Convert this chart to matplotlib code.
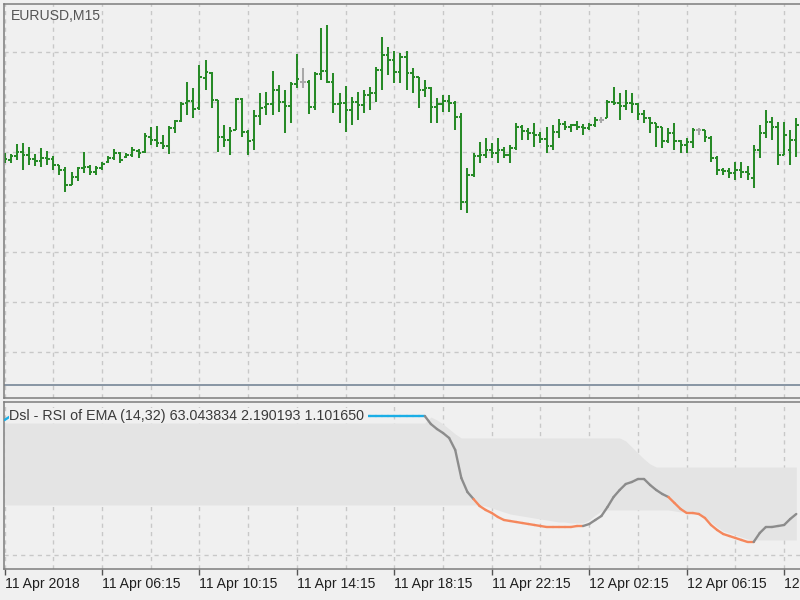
import matplotlib

matplotlib.use("Agg")
import matplotlib.pyplot as plt
import matplotlib.transforms as mtransforms
import numpy as np
from matplotlib.collections import LineCollection
from matplotlib.patches import Rectangle

# EURUSD M15 bars (first bar 11 Apr 2018 02:15)
highs = [
    1.23798, 1.23796, 1.23816, 1.23818, 1.23810, 1.23796, 1.23808, 1.23802, 1.23792, 1.23774,
    1.23770, 1.23760, 1.23770, 1.23800, 1.23774, 1.23772, 1.23780, 1.23792, 1.23806, 1.23800,
    1.23798, 1.23810, 1.23806, 1.23838, 1.23850, 1.23852, 1.23834, 1.23852, 1.23864, 1.23900,
    1.23940, 1.23928, 1.23974, 1.23984, 1.23960, 1.23904, 1.23854, 1.23850, 1.23908, 1.23908,
    1.23844, 1.23884, 1.23918, 1.23920, 1.23962, 1.23934, 1.23924, 1.23940, 1.23996, 1.23968,
    1.23944, 1.23960, 1.24048, 1.24054, 1.23958, 1.23918, 1.23932, 1.23910, 1.23920, 1.23924,
    1.23930, 1.23970, 1.24030, 1.24010, 1.24002, 1.23998, 1.24002, 1.23968, 1.23950, 1.23944,
    1.23930, 1.23908, 1.23914, 1.23914, 1.23902, 1.23878, 1.23768, 1.23798, 1.23820, 1.23828,
    1.23818, 1.23828, 1.23810, 1.23814, 1.23858, 1.23854, 1.23848, 1.23858, 1.23840, 1.23850,
    1.23854, 1.23866, 1.23862, 1.23856, 1.23862, 1.23856, 1.23858, 1.23870, 1.23870, 1.23904,
    1.23930, 1.23918, 1.23924, 1.23918, 1.23898, 1.23884, 1.23870, 1.23858, 1.23850, 1.23848,
    1.23858, 1.23824, 1.23828, 1.23848, 1.23848, 1.23844, 1.23832, 1.23792, 1.23768, 1.23768,
    1.23780, 1.23780, 1.23772, 1.23814, 1.23854, 1.23884, 1.23870, 1.23860, 1.23860, 1.23844,
    1.23868,
]
lows = [
    1.23778, 1.23778, 1.23784, 1.23764, 1.23774, 1.23772, 1.23770, 1.23774, 1.23764, 1.23754,
    1.23720, 1.23734, 1.23742, 1.23758, 1.23754, 1.23754, 1.23764, 1.23778, 1.23784, 1.23778,
    1.23788, 1.23790, 1.23788, 1.23798, 1.23814, 1.23810, 1.23806, 1.23796, 1.23838, 1.23860,
    1.23874, 1.23868, 1.23884, 1.23924, 1.23888, 1.23800, 1.23810, 1.23794, 1.23844, 1.23830,
    1.23794, 1.23804, 1.23854, 1.23874, 1.23874, 1.23880, 1.23838, 1.23858, 1.23928, 1.23928,
    1.23876, 1.23884, 1.23944, 1.23938, 1.23878, 1.23858, 1.23840, 1.23854, 1.23864, 1.23878,
    1.23884, 1.23900, 1.23924, 1.23954, 1.23938, 1.23938, 1.23924, 1.23918, 1.23888, 1.23910,
    1.23858, 1.23858, 1.23880, 1.23880, 1.23844, 1.23684, 1.23678, 1.23750, 1.23778, 1.23788,
    1.23788, 1.23778, 1.23788, 1.23778, 1.23804, 1.23824, 1.23824, 1.23810, 1.23818, 1.23798,
    1.23804, 1.23828, 1.23844, 1.23840, 1.23844, 1.23834, 1.23844, 1.23850, 1.23858, 1.23868,
    1.23894, 1.23864, 1.23884, 1.23878, 1.23864, 1.23858, 1.23838, 1.23810, 1.23808, 1.23818,
    1.23804, 1.23798, 1.23798, 1.23808, 1.23834, 1.23820, 1.23780, 1.23754, 1.23754, 1.23748,
    1.23744, 1.23748, 1.23744, 1.23728, 1.23788, 1.23828, 1.23824, 1.23774, 1.23794, 1.23774,
    1.23790,
]
opens = [
    1.23788, 1.23784, 1.23792, 1.23800, 1.23794, 1.23786, 1.23782, 1.23788, 1.23786, 1.23774,
    1.23764, 1.23734, 1.23750, 1.23768, 1.23770, 1.23760, 1.23768, 1.23780, 1.23788, 1.23798,
    1.23790, 1.23794, 1.23802, 1.23800, 1.23830, 1.23824, 1.23818, 1.23812, 1.23848, 1.23862,
    1.23898, 1.23902, 1.23888, 1.23948, 1.23958, 1.23904, 1.23830, 1.23824, 1.23844, 1.23906,
    1.23840, 1.23824, 1.23872, 1.23890, 1.23896, 1.23924, 1.23900, 1.23892, 1.23936, 1.23940,
    1.23940, 1.23890, 1.23956, 1.23962, 1.23940, 1.23896, 1.23898, 1.23884, 1.23900, 1.23894,
    1.23914, 1.23918, 1.23964, 1.23994, 1.23984, 1.23960, 1.23990, 1.23958, 1.23950, 1.23924,
    1.23928, 1.23890, 1.23896, 1.23902, 1.23898, 1.23870, 1.23700, 1.23754, 1.23792, 1.23794,
    1.23804, 1.23798, 1.23804, 1.23794, 1.23808, 1.23850, 1.23842, 1.23838, 1.23834, 1.23826,
    1.23812, 1.23840, 1.23856, 1.23850, 1.23854, 1.23850, 1.23848, 1.23854, 1.23864, 1.23868,
    1.23900, 1.23898, 1.23892, 1.23898, 1.23896, 1.23876, 1.23868, 1.23858, 1.23850, 1.23822,
    1.23838, 1.23822, 1.23814, 1.23820, 1.23844, 1.23844, 1.23828, 1.23788, 1.23764, 1.23762,
    1.23758, 1.23764, 1.23760, 1.23748, 1.23804, 1.23838, 1.23860, 1.23850, 1.23794, 1.23804,
    1.23824,
]
closes = [
    1.23786, 1.23792, 1.23800, 1.23794, 1.23786, 1.23782, 1.23788, 1.23786, 1.23774, 1.23764,
    1.23734, 1.23750, 1.23768, 1.23770, 1.23760, 1.23768, 1.23776, 1.23788, 1.23798, 1.23784,
    1.23794, 1.23804, 1.23798, 1.23832, 1.23824, 1.23818, 1.23812, 1.23848, 1.23862, 1.23896,
    1.23902, 1.23886, 1.23950, 1.23960, 1.23904, 1.23830, 1.23824, 1.23842, 1.23906, 1.23840,
    1.23822, 1.23872, 1.23888, 1.23896, 1.23924, 1.23900, 1.23892, 1.23936, 1.23946, 1.23940,
    1.23890, 1.23956, 1.23962, 1.23940, 1.23896, 1.23898, 1.23884, 1.23900, 1.23894, 1.23914,
    1.23918, 1.23964, 1.23994, 1.23984, 1.23960, 1.23990, 1.23958, 1.23950, 1.23924, 1.23928,
    1.23890, 1.23896, 1.23902, 1.23898, 1.23870, 1.23700, 1.23754, 1.23792, 1.23794, 1.23804,
    1.23798, 1.23804, 1.23794, 1.23808, 1.23850, 1.23842, 1.23838, 1.23834, 1.23826, 1.23812,
    1.23840, 1.23856, 1.23850, 1.23854, 1.23850, 1.23848, 1.23854, 1.23864, 1.23864, 1.23900,
    1.23898, 1.23892, 1.23898, 1.23896, 1.23876, 1.23868, 1.23858, 1.23850, 1.23822, 1.23838,
    1.23822, 1.23814, 1.23820, 1.23844, 1.23844, 1.23830, 1.23788, 1.23764, 1.23762, 1.23758,
    1.23764, 1.23760, 1.23756, 1.23804, 1.23838, 1.23860, 1.23850, 1.23794, 1.23834, 1.23824,
    1.23854,
]

# Dsl - RSI of EMA (14,32): value, upper / lower signal levels, colour state
dsl_value = (
    [98.56] + [100.0] * 69
    + [97.12, 95.32, 93.88, 92.09, 87.77, 77.70, 72.66, 70.14, 67.63, 66.19,
       65.11, 63.67, 62.59, 62.23, 61.87, 61.51, 61.15, 60.79, 60.43, 60.07,
       60.07, 60.07, 60.07, 60.07, 60.43, 60.43, 61.15, 62.59, 64.03, 67.27,
       70.86, 73.38, 75.54, 76.26, 77.34, 77.34, 75.18, 73.38, 71.94, 70.86,
       68.71, 66.55, 65.11, 65.11, 64.75, 63.31, 60.79, 58.99, 57.55, 56.83,
       56.12, 55.40, 54.68, 54.68, 57.91, 60.07, 60.07, 60.43, 60.79, 62.95,
       64.75]
)
dsl_upper = (
    [97.48] * 70
    + [99.64, 98.56, 97.12, 95.32, 93.53]
    + [92.09] * 27
    + [91.01, 88.85, 86.69, 84.53, 82.73]
    + [81.65] * 24
)
dsl_lower = (
    [67.99] * 79
    + [67.63, 66.91, 66.19, 65.47, 64.75, 64.39, 64.03, 63.67, 63.31, 62.95,
       62.59, 62.23, 61.87, 61.87, 61.51, 61.51, 61.51, 62.59, 64.39, 65.83]
    + [66.19] * 11
    + [65.83, 65.47, 65.47, 65.11, 64.75, 63.67, 61.87, 60.07, 58.63, 57.91,
       57.19, 56.47, 55.76]
    + [55.40] * 8
)
# 1 = above upper level, 0 = inside, -1 = below lower level
dsl_state = [1] * 70 + [0] * 8 + [-1] * 18 + [0] * 14 + [-1] * 14 + [0] * 7

time_labels = [
    "11 Apr 2018", "11 Apr 06:15", "11 Apr 10:15", "11 Apr 14:15", "11 Apr 18:15",
    "11 Apr 22:15", "12 Apr 02:15", "12 Apr 06:15", "12 Apr 10:15",
]
price_grid = [1.2340, 1.2350, 1.2360, 1.2370, 1.2380, 1.2390, 1.2400]
hline_price = 1.23334

BG = "#f0f0f0"
GRID = "#c8c8c8"
SPINE = "#7c7c7c"
BAR_GREEN = "#278a27"
BAR_FLAT = "#a8a8a8"
STATE_COLORS = {1: "#1aaee6", 0: "#8c8c8c", -1: "#f5875c"}

plt.rcParams["font.family"] = ["Liberation Sans", "DejaVu Sans"]

n = len(opens)
x = np.arange(n)

fig = plt.figure(figsize=(8, 6), dpi=100, facecolor=BG)
ax = fig.add_axes([4 / 800, 1 - 398 / 600, 796 / 800, 394 / 600], facecolor=BG)
ax2 = fig.add_axes([4 / 800, 1 - 569 / 600, 796 / 800, 167 / 600], facecolor=BG)

x_left = -0.092
x_right = 130.61

for a in (ax, ax2):
    a.set_xlim(x_left, x_right)
    a.set_xticks(np.arange(0, n, 16))
    a.set_xticks(np.arange(8, n, 16), minor=True)
    a.grid(True, which="both", color=GRID, linestyle=(0, (3, 3)), linewidth=1.0)
    a.set_axisbelow(True)
    for side in ("left", "top", "bottom"):
        a.spines[side].set_color(SPINE)
        a.spines[side].set_linewidth(1.1)
    a.spines["right"].set_visible(False)
    a.tick_params(which="both", labelleft=False, labelbottom=False, left=False)

# price bars
ax.set_ylim(1.23308, 1.24096)
ax.set_yticks(price_grid)
ax.tick_params(which="both", length=0)

segs = []
cols = []
half = 0.42
for i in range(n):
    c = BAR_FLAT if opens[i] == closes[i] else BAR_GREEN
    segs.append([(x[i], lows[i]), (x[i], highs[i])])
    segs.append([(x[i] - half, opens[i]), (x[i], opens[i])])
    segs.append([(x[i], closes[i]), (x[i] + half, closes[i])])
    cols += [c, c, c]
ax.add_collection(LineCollection(segs, colors=cols, linewidths=1.45, capstyle="butt"))
ax.axhline(hline_price, color="#8895a3", linewidth=1.4)

fig.text(10.5 / 800, 1 - 20 / 600, "EURUSD,M15", fontsize=10.1, color="#555555",
         ha="left", va="baseline")

# indicator window
ax2.set_ylim(44.96, 105.04)
ax2.set_yticks([50])
ax2.tick_params(which="major", axis="x", length=4, width=1.0, color="#555555", direction="out")
ax2.tick_params(which="minor", axis="x", length=0)
ax2.tick_params(axis="y", length=0)

ax2.fill_between(x, dsl_lower, dsl_upper, color="#e4e4e4", linewidth=0, zorder=1)

val = np.array(dsl_value)
line_segs = [[(x[i - 1], val[i - 1]), (x[i], val[i])] for i in range(1, n)]
line_cols = [STATE_COLORS[dsl_state[i]] for i in range(1, n)]
ax2.add_collection(LineCollection(line_segs, colors=line_cols, linewidths=1.7,
                                  capstyle="round", zorder=3))

# the label sits on the chart background and hides the line behind it
ax2.add_patch(Rectangle((8.5 / 800, 1 - 422.5 / 600), 359 / 800, 15 / 600,
                        transform=fig.transFigure, facecolor=BG, edgecolor="none", zorder=4))
ax2.text(9.3 / 800, 1 - 420 / 600, "Dsl - RSI of EMA (14,32) 63.043834 2.190193 1.101650",
         transform=fig.transFigure, fontsize=10.3, color="#3a3a3a", ha="left", va="baseline",
         zorder=5)

trans = mtransforms.blended_transform_factory(ax2.transData, fig.transFigure)
for pos, lab in zip(np.arange(0, n, 16), time_labels):
    ax2.text(pos, 1 - 588 / 600, lab, transform=trans, fontsize=10.1, color="#202020",
             ha="left", va="baseline", clip_on=False)

fig.savefig("out.png", dpi=100, facecolor=BG)
